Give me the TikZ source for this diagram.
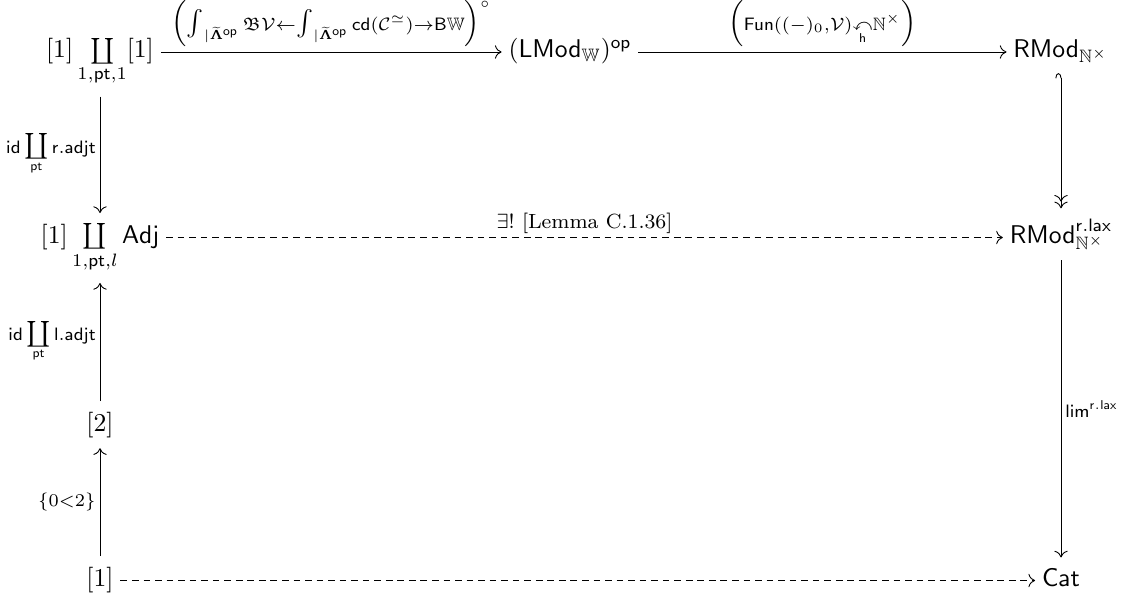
\documentclass[tikz,border=0pt]{standalone}
\usepackage{amsmath,amssymb}
\usetikzlibrary{arrows.meta}
\tikzset{
  obj/.style={anchor=base, inner xsep=2.5pt, inner ysep=4pt},
  lab/.style={inner sep=1.5pt, font=\normalsize},
  toplab/.style={inner sep=0pt, font=\normalsize},
  mor/.style={line width=0.35pt, -{To[length=2.6pt,width=5.2pt]}},
  dmor/.style={mor, dash pattern=on 2.6pt off 1.9pt},
  hookmor/.style={line width=0.35pt, {Hooks[left,length=2pt,width=4.4pt]}-{To[length=2.6pt,width=5.2pt]To[length=2.6pt,width=5.2pt]}},
}
\newcommand{\bigint}{\mathop{\textstyle\int}\nolimits}
\newcommand{\midcoprod}{\mathop{\textstyle\coprod}\limits}
\begin{document}
\begin{tikzpicture}[x=0.39pt,y=-0.39pt]
\useasboundingbox (0,0) rectangle (1129,600);
% objects
\node[obj] (tl)   at (100,57.5)  {$[1]\coprod\limits_{1,\mathsf{pt},1}[1]$};
\node[obj] (lmod) at (570,57.5)  {$(\mathsf{LMod}_{\mathbb{W}})^{\mathsf{op}}$};
\node[obj] (rmod) at (1061,57.5) {$\mathsf{RMod}_{\mathbb{N}^{\times}}$};
\node[obj] (adj)  at (100,243) {$[1]\coprod\limits_{1,\mathsf{pt},l}\mathsf{Adj}$};
\node[obj] (rlax) at (1061,243) {$\mathsf{RMod}^{\mathsf{r.lax}}_{\mathbb{N}^{\times}}$};
\node[obj] (two)  at (100,431) {$[2]$};
\node[obj] (one)  at (100,586) {$[1]$};
\node[obj] (cat)  at (1061,586) {$\mathsf{Cat}$};
% top row
\draw[mor] (tl.mid east) -- node[toplab, above=1.8pt] {$\scriptstyle \Bigl(\bigint_{|\widetilde{\mathbf{\Lambda}}^{\mathsf{op}}}\mathfrak{B}\mathcal{V}\leftarrow\bigint_{|\widetilde{\mathbf{\Lambda}}^{\mathsf{op}}}\mathsf{cd}(\mathcal{C}^{\simeq})\to\mathsf{B}\mathbb{W}\Bigr)^{\circ}$} (lmod.mid west);
\draw[mor] (lmod.mid east) -- node[toplab, above=1.8pt] {$\scriptstyle \Bigl(\mathsf{Fun}((-)_0,\mathcal{V})\underset{\mathsf{h}}{\curvearrowleft}\mathbb{N}^{\times}\Bigr)$} (rmod.mid west);
% right column
\draw[hookmor] (rmod) -- (rlax);
\draw[mor] (rlax) -- node[lab, right] {$\scriptstyle \mathsf{lim}^{\mathsf{r.lax}}$} (cat);
% left column
\draw[mor] (tl) -- node[lab, left] {$\scriptstyle \mathsf{id}\midcoprod_{\mathsf{pt}}\mathsf{r.adjt}$} (adj);
\draw[mor] (two) -- node[lab, left] {$\scriptstyle \mathsf{id}\midcoprod_{\mathsf{pt}}\mathsf{l.adjt}$} (adj);
\draw[mor] (one) -- node[lab, left] {$\scriptstyle \{0<2\}$} (two);
% dashed
\draw[dmor] (adj.mid east) -- node[lab, above, font=\fontsize{8}{9.5}\selectfont] {$\exists!$ [Lemma C.1.36]} (rlax.mid west);
\draw[dmor] (one.mid east) -- (cat.mid west);
\end{tikzpicture}
\end{document}
